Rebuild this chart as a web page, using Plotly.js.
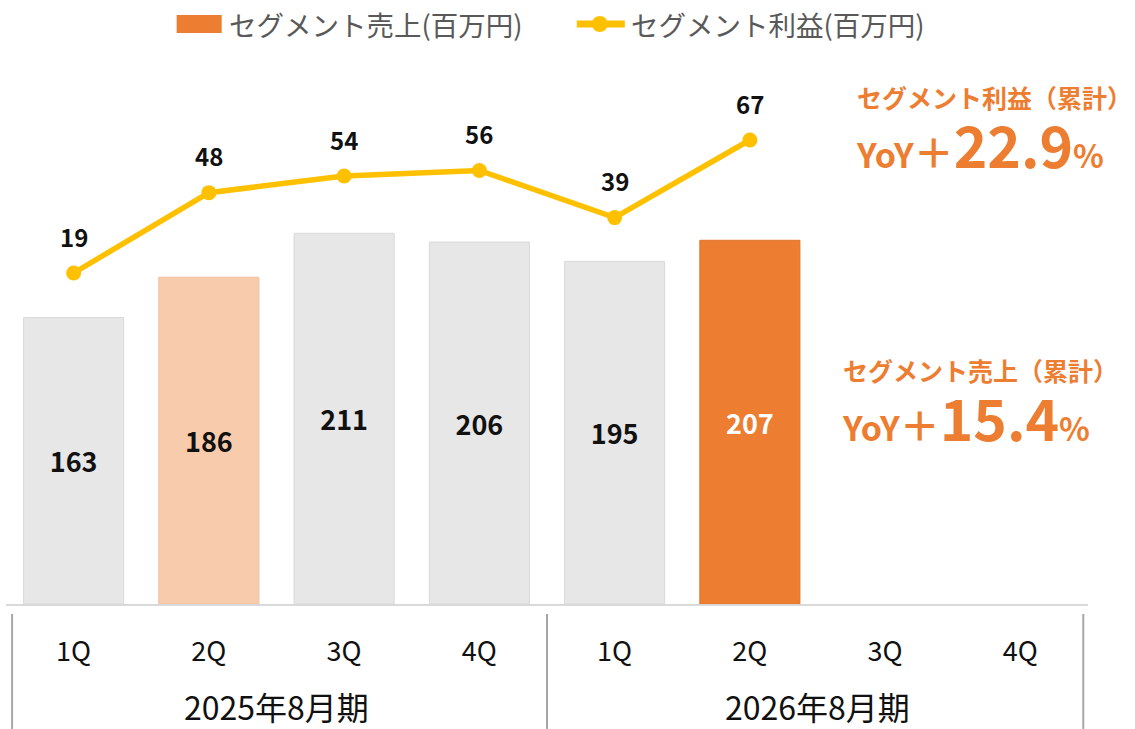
<!DOCTYPE html>
<html>
<head>
<meta charset="utf-8">
<script src="https://cdn.plot.ly/plotly-3.0.1.min.js"></script>
<style>html,body{margin:0;padding:0;background:#fff;}#chart{width:1135px;height:729px;}</style>
</head>
<body>
<div id="chart"></div>
<script>
// ---- data ----
const quarters = ['1Q','2Q','3Q','4Q','1Q','2Q','3Q','4Q'];
const periods = ['2025年8月期','2026年8月期'];
const sales = [163,186,211,206,195,207,null,null];
const profit = [19,48,54,56,39,67,null,null];
const salesName = 'セグメント売上(百万円)';
const profitName = 'セグメント利益(百万円)';
const profitYoYTitle = 'セグメント利益（累計）';
const profitYoY = '22.9';
const salesYoYTitle = 'セグメント売上（累計）';
const salesYoY = '15.4';

// ---- styles ----
const barColors = ['#e7e7e7','#f8cbad','#e7e7e7','#e7e7e7','#e7e7e7','#ed7d31','#e7e7e7','#e7e7e7'];
const barLines = ['#d9d9d9','#efbfa0','#d9d9d9','#d9d9d9','#d9d9d9','#e07428','#d9d9d9','#d9d9d9'];
const barTextColors = ['#111','#111','#111','#111','#111','#fff','#111','#111'];
const ORANGE = '#ed7d31';
const GOLD = '#ffc000';
const FONT = '"Noto Sans CJK JP", "Noto Sans", sans-serif';

// plot area geometry (pixels) for layout helpers
const W = 1135, H = 729, ML = 6.4, MR = 1135 - 1088, MT = 50, MB = 125;
const PW = W - ML - MR, PH = H - MT - MB;
const px = x => (x - ML) / PW;
const py = y => (H - MB - y) / PH;

const xs = quarters.map((_, i) => i);

const traces = [
  {
    type: 'bar', x: xs, y: sales, showlegend: false, name: salesName,
    marker: {color: barColors, line: {color: barLines, width: 1}},
    text: sales.map(v => v == null ? '' : String(v)),
    textposition: 'inside', insidetextanchor: 'middle', textangle: 0,
    insidetextfont: {family: FONT, size: 27, color: barTextColors, weight: 700},
    hoverinfo: 'skip'
  },
  {
    type: 'scatter', mode: 'lines+markers', x: xs, y: profit, yaxis: 'y2',
    name: profitName, showlegend: false, line: {color: GOLD, width: 5.5},
    marker: {color: GOLD, size: 15}, connectgaps: false, hoverinfo: 'skip'
  }
];

const annotations = [];
xs.forEach((x, i) => {
  if (profit[i] == null) return;
  annotations.push({
    x: x, y: profit[i], xref: 'x', yref: 'y2', text: String(profit[i]),
    showarrow: false, yshift: 37,
    font: {family: FONT, size: 24, color: '#111', weight: 700}
  });
});
periods.forEach((p, k) => {
  annotations.push({
    x: 1.5 + 4 * k, y: py(706), xref: 'x', yref: 'paper', text: p,
    showarrow: false, yanchor: 'middle',
    font: {family: FONT, size: 32, color: '#111'}
  });
});
function yoyBlock(title, v) {
  return '<span style="font-size:25px">' + title + '</span><br>' +
         '<span style="font-size:34px">YoY</span>' +
         '<span style="font-size:40px">＋</span>' +
         '<span style="font-size:57px">' + v + '</span>' +
         '<span style="font-size:32px">%</span>';
}
annotations.push({
  x: px(855), y: py(78), xref: 'paper', yref: 'paper', xanchor: 'left', yanchor: 'top',
  align: 'left', text: yoyBlock(profitYoYTitle, profitYoY), showarrow: false,
  borderpad: 0,
  font: {family: FONT, size: 46, color: ORANGE, weight: 700}
});
annotations.push({
  x: px(841), y: py(351), xref: 'paper', yref: 'paper', xanchor: 'left', yanchor: 'top',
  align: 'left', text: yoyBlock(salesYoYTitle, salesYoY), showarrow: false,
  borderpad: 0,
  font: {family: FONT, size: 46, color: ORANGE, weight: 700}
});
// legend texts
annotations.push({
  x: px(227), y: py(24), xref: 'paper', yref: 'paper', xanchor: 'left', yanchor: 'middle',
  text: salesName, showarrow: false, font: {family: FONT, size: 27.5, color: '#595959'}
});
annotations.push({
  x: px(629), y: py(24), xref: 'paper', yref: 'paper', xanchor: 'left', yanchor: 'middle',
  text: profitName, showarrow: false, font: {family: FONT, size: 27.5, color: '#595959'}
});

const dividerX = [-0.455, 3.5, 7.465];
const shapes = dividerX.map(x => ({
  type: 'line', xref: 'x', yref: 'paper', x0: x, x1: x, y0: py(614), y1: py(732),
  line: {color: '#a6a6a6', width: 2}
}));
// legend symbols
shapes.push({type: 'rect', xref: 'paper', yref: 'paper', x0: px(177), x1: px(222), y0: py(33), y1: py(15),
  fillcolor: ORANGE, line: {width: 0}});
shapes.push({type: 'line', xref: 'paper', yref: 'paper', x0: px(577), x1: px(625), y0: py(24), y1: py(24),
  line: {color: GOLD, width: 7}});
shapes.push({type: 'circle', xref: 'paper', yref: 'paper', x0: px(592), x1: px(608), y0: py(32), y1: py(16),
  fillcolor: GOLD, line: {width: 0}});

const layout = {
  width: W, height: H,
  margin: {l: ML, r: MR, t: MT, b: MB},
  paper_bgcolor: '#fff', plot_bgcolor: '#fff',
  font: {family: FONT, color: '#111'},
  barmode: 'overlay', bargap: 0.26,
  showlegend: false,
  xaxis: {
    range: [-0.5, 7.5], tickvals: xs, ticktext: quarters,
    showline: true, linecolor: '#d9d9d9', linewidth: 2,
    showgrid: false, zeroline: false, ticks: '', ticklabelstandoff: 23,
    tickfont: {family: FONT, size: 27, color: '#111'}, fixedrange: true
  },
  yaxis: {range: [0, 315.3], visible: false, showgrid: false, zeroline: false},
  yaxis2: {range: [-100.45, 99.48], overlaying: 'y', visible: false, showgrid: false, zeroline: false},
  annotations: annotations,
  shapes: shapes
};

Plotly.newPlot('chart', traces, layout, {staticPlot: true});
</script>
</body>
</html>
